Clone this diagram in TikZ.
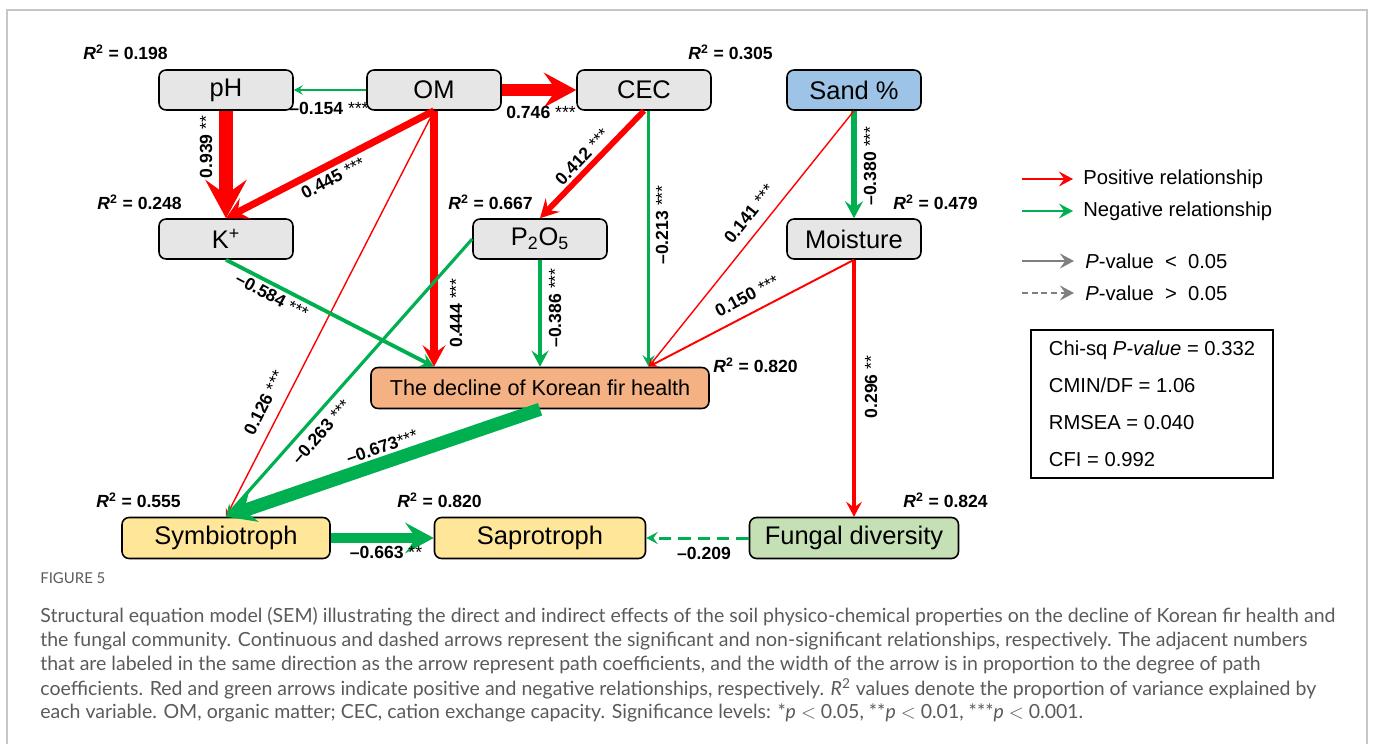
\documentclass[tikz,border=0pt]{standalone}
\usepackage{fontspec}
\setmainfont{Liberation Sans}
\newfontfamily\capfont{Lato}
\usetikzlibrary{arrows.meta,calc}
\definecolor{posred}{HTML}{FF0000}
\definecolor{neggreen}{HTML}{00B050}
\definecolor{boxgray}{HTML}{E7E6E6}
\definecolor{sandblue}{HTML}{9DC3E6}
\definecolor{healthorange}{HTML}{F4B183}
\definecolor{fungiyellow}{HTML}{FFE699}
\definecolor{divgreen}{HTML}{C5E0B4}
\definecolor{leggray}{HTML}{7F7F7F}
\definecolor{capgray}{HTML}{5A5A5A}
\newcommand\sig[1]{{\mdseries#1}}
\newcommand\rsqr{\textit{R}\textsuperscript{2}}

\begin{document}
\begin{tikzpicture}[x=0.02cm,y=-0.02cm,
    var/.style={draw,line width=0.9pt,rounded corners=4pt,fill=boxgray,minimum width=2.68cm,
        minimum height=0.8cm,inner sep=0pt,font=\fontsize{14.5}{17}\selectfont},
    rsq/.style={font=\fontsize{10}{12}\selectfont\bfseries,anchor=west,inner sep=0pt},
    coef/.style={font=\fontsize{10}{12}\selectfont\bfseries,inner sep=0pt},
    semarrow/.style={line width=#1,-{Stealth[length=2.5pt 2.4,width=2.5pt 2.6,inset=1pt 0.9]}},
    posarrow/.style={draw=posred,semarrow=#1},
    negarrow/.style={draw=neggreen,semarrow=#1},
    legarrow/.style={line width=1.1pt,-{Stealth[length=8pt,width=8.5pt,inset=3pt]}},
    legtxt/.style={font=\fontsize{11.5}{14}\selectfont,anchor=west,inner sep=0pt},
    capt/.style={font=\capfont\fontsize{11.1}{13}\selectfont,text=capgray,anchor=west,inner sep=0pt}]
    \useasboundingbox (0,0) rectangle (1373,744);
    % page frame
    \draw[gray!45,line width=0.8pt] (7,744) -- (7,10) -- (1367,10) -- (1367,744);

    % variables
    \node[var] (pH) at (226,90) {pH};
    \node[var] (OM) at (434,90) {OM};
    \node[var] (CEC) at (644,90) {CEC};
    \node[var,fill=sandblue] (sand) at (854,90) {Sand \%};
    \node[var] (K) at (226,239) {K\textsuperscript{+}};
    \node[var] (PO) at (540,239) {P\textsubscript{2}O\textsubscript{5}};
    \node[var] (moist) at (854,239) {Moisture};
    \node[var,fill=healthorange,minimum width=6.76cm,minimum height=0.82cm,
        font=\fontsize{12.3}{14}\selectfont] (decl) at (540,388) {The decline of Korean fir health};
    \node[var,fill=fungiyellow,minimum width=4.16cm,minimum height=0.82cm] (symb) at (226,538) {Symbiotroph};
    \node[var,fill=fungiyellow,minimum width=4.22cm,minimum height=0.82cm] (sapro) at (540,538) {Saprotroph};
    \node[var,fill=divgreen,minimum width=4.18cm,minimum height=0.82cm] (fdiv) at (854,538) {Fungal diversity};

    % explained variance
    \node[rsq] (rpH) at (83,52) {\rsqr{} = 0.198};
    \node[rsq] (rCEC) at (688,52) {\rsqr{} = 0.305};
    \node[rsq] (rK) at (97,202) {\rsqr{} = 0.248};
    \node[rsq] (rPO) at (448,202) {\rsqr{} = 0.667};
    \node[rsq] (rmoist) at (893,202) {\rsqr{} = 0.479};
    \node[rsq] (rdecl) at (713,365) {\rsqr{} = 0.820};
    \node[rsq] (rsymb) at (96,500) {\rsqr{} = 0.555};
    \node[rsq] (rsapro) at (397,500) {\rsqr{} = 0.820};
    \node[rsq] (rfdiv) at (903,500) {\rsqr{} = 0.824};

    % paths
    \coordinate (dL) at (OM.south |- decl.north);
    \coordinate (dR) at ($(decl.north west)!0.82!(decl.north east)$);
    \draw[negarrow=1.1pt] (OM) -- (pH);
    \draw[posarrow=6.6pt] (OM) -- (CEC);
    \draw[posarrow=8pt] (pH) -- (K);
    \draw[posarrow=4pt] (OM.south) -- (K.north);
    \draw[posarrow=0.8pt] (OM.south) -- (symb.north);
    \draw[posarrow=4pt] (OM.south) -- (dL);
    \draw[posarrow=3.3pt] (CEC.south) -- (PO.north);
    \draw[negarrow=1.7pt] (dR |- CEC.south) -- (dR);
    \draw[negarrow=3pt] (sand) -- (moist);
    \draw[posarrow=0.8pt] (sand.south) -- (dR);
    \draw[posarrow=1.1pt] (moist.south) -- (dR);
    \draw[posarrow=2.5pt] (moist) -- (fdiv);
    \draw[negarrow=2.2pt] (K.south) -- (dL);
    \draw[negarrow=2.8pt] (PO) -- (decl);
    \draw[negarrow=1.8pt] (PO.west) -- (symb.north);
    \draw[negarrow=7.5pt,-{Stealth[length=3pt 1.8,width=3pt 1.9,inset=1pt 0.6]}] (decl.south) -- (symb.north);
    \draw[negarrow=5.7pt] (symb) -- (sapro);
    \draw[negarrow=1.7pt,dash pattern=on 7pt off 4pt] (fdiv) -- (sapro);

    % path coefficients
    \node[coef] (c154) at (329,108) {–0.154 \sig{***}};
    \node[coef] (c746) at (541,112) {0.746 \sig{***}};
    \node[coef,rotate=90] (c939) at (206,147) {0.939 \sig{**}};
    \node[coef,rotate=28] (c445) at (333,178) {0.445 \sig{***}};
    \node[coef,rotate=63.4] (c126) at (264,403) {0.126 \sig{***}};
    \node[coef,rotate=90] (c444) at (456,313) {0.444 \sig{***}};
    \node[coef,rotate=46.6] (c412) at (582,157) {0.412 \sig{***}};
    \node[coef,rotate=90] (c213) at (662,225) {–0.213 \sig{***}};
    \node[coef,rotate=90] (c380) at (870,166) {–0.380 \sig{***}};
    \node[coef,rotate=51.7] (c141) at (749,214) {0.141 \sig{***}};
    \node[coef,rotate=28] (c150) at (747,296) {0.150 \sig{***}};
    \node[coef,rotate=90] (c296) at (871,387) {0.296 \sig{**}};
    \node[coef,rotate=-28] (c584) at (272,296) {–0.584 \sig{***}};
    \node[coef,rotate=90] (c386) at (555,308) {–0.386 \sig{***}};
    \node[coef,rotate=48.7] (c263) at (321,432) {–0.263 \sig{***}};
    \node[coef,rotate=19] (c673) at (382,447) {–0.673\sig{***}};
    \node[coef] (c663) at (386,552) {–0.663 \sig{**}};
    \node[coef] (c209) at (704,553) {–0.209};

    % legend
    \node[legtxt] (lgpos) at (1083,179) {Positive relationship};
    \node[legtxt] (lgneg) at (1083,211) {Negative relationship};
    \node[legtxt] (lgsig) at (1085,261) {\textit{P}-value \ <\ \ 0.05};
    \node[legtxt] (lgns) at (1085,293) {\textit{P}-value \ >\ \ 0.05};
    \coordinate (lg1) at (1022,179);
    \coordinate (lg2) at (1022,211);
    \coordinate (lg3) at (1022,261);
    \coordinate (lg4) at (1022,293);
    \draw[legarrow,posred] (lg1) -- ([xshift=-0.2cm]lgpos.west);
    \draw[legarrow,neggreen] (lg2) -- ([xshift=-0.2cm]lgneg.west);
    \draw[legarrow,leggray] (lg3) -- ([xshift=-0.22cm]lgsig.west);
    \draw[legarrow,leggray,dash pattern=on 3.5pt off 2pt] (lg4) -- ([xshift=-0.22cm]lgns.west);

    % model fit
    \node[draw,line width=0.8pt,minimum width=4.84cm,minimum height=2.96cm,align=left,
        font=\fontsize{11.5}{14}\selectfont] (fit) at (1152,404)
        {Chi-sq \textit{P-value} = 0.332\\[7pt]CMIN/DF = 1.06\\[7pt]RMSEA = 0.040\\[7pt]CFI = 0.992};

    % caption
    \node[capt,font=\capfont\fontsize{8.5}{10}\selectfont] (figno) at (40,578) {FIGURE 5};
    \node[capt] (cap1) at (40,617) {Structural equation model (SEM) illustrating the direct and indirect effects of the soil physico-chemical properties on the decline of Korean fir health and};
    \node[capt] (cap2) at (40,641) {the fungal community. Continuous and dashed arrows represent the significant and non-significant relationships, respectively. The adjacent numbers};
    \node[capt] (cap3) at (40,665) {that are labeled in the same direction as the arrow represent path coefficients, and the width of the arrow is in proportion to the degree of path};
    \node[capt] (cap4) at (40,689) {coefficients. Red and green arrows indicate positive and negative relationships, respectively. \textit{R}\textsuperscript{2} values denote the proportion of variance explained by};
    \node[capt] (cap5) at (40,713) {each variable. OM, organic matter; CEC, cation exchange capacity. Significance levels: *\textit{p} $<$ 0.05, **\textit{p} $<$ 0.01, ***\textit{p} $<$ 0.001.};
\end{tikzpicture}
\end{document}
